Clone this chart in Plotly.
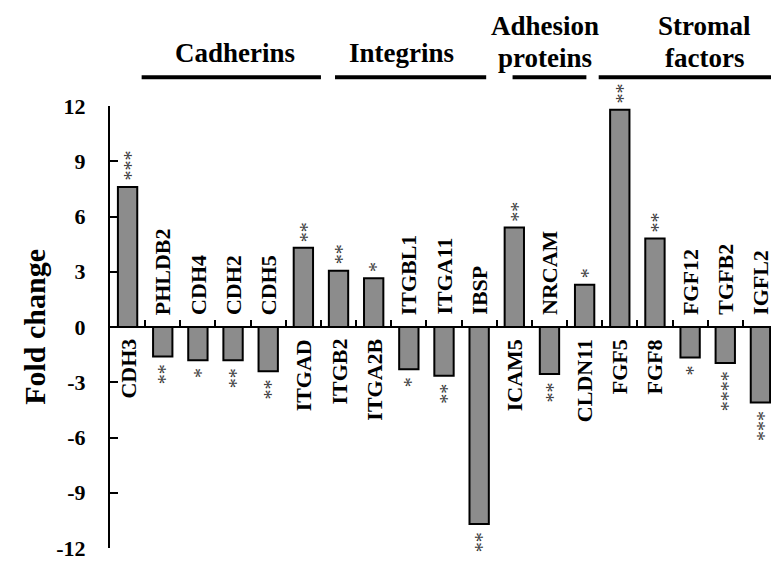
import plotly.graph_objects as go

genes = ["CDH3", "PHLDB2", "CDH4", "CDH2", "CDH5", "ITGAD", "ITGB2", "ITGA2B",
         "ITGBL1", "ITGA11", "IBSP", "ICAM5", "NRCAM", "CLDN11", "FGF5", "FGF8",
         "FGF12", "TGFB2", "IGFL2"]
fold_change = [7.6, -1.6, -1.8, -1.8, -2.4, 4.3, 3.05, 2.65,
               -2.3, -2.65, -10.7, 5.4, -2.55, 2.3, 11.8, 4.8,
               -1.65, -1.95, -4.1]
stars = ["***", "**", "*", "**", "**", "**", "**", "*",
         "*", "**", "**", "**", "**", "*", "**", "**",
         "*", "****", "***"]
y_ticks = [-12, -9, -6, -3, 0, 3, 6, 9, 12]
y_tick_text = ["-12", "-9", "-6", "-3", "0", "3", "6", "9", "12"]

# group headers: (label lines, line start idx, line end idx, text center idx)
groups = [
    (["Cadherins"], 0.4, 5.5, 3.05),
    (["Integrins"], 5.9, 10.2, 7.8),
    (["Adhesion", "proteins"], 10.95, 13.05, 11.87),
    (["Stromal", "factors"], 13.4, 18.6, 16.42),
]

FONT = "Times New Roman, Liberation Serif, serif"
x_idx = list(range(len(genes)))

fig = go.Figure()
fig.add_trace(go.Bar(
    x=x_idx, y=fold_change, width=0.55,
    marker=dict(color="#8c8c8c", line=dict(color="black", width=2)),
    showlegend=False, hoverinfo="skip"))

ann = []
for i, (g, v, s) in enumerate(zip(genes, fold_change, stars)):
    pos = v > 0
    ann.append(dict(x=i, y=0, xref="x", yref="y", text="<b>%s</b>" % g, showarrow=False,
                    textangle=-90, yanchor="top" if pos else "bottom",
                    yshift=-10 if pos else 10,
                    font=dict(family=FONT, size=22, color="black")))
    ann.append(dict(x=i, y=v, xref="x", yref="y", text=s, showarrow=False,
                    textangle=-90, yanchor="bottom" if pos else "top",
                    yshift=4 if pos else -6, xshift=3,
                    font=dict(family=FONT, size=20, color="#3a3a3a")))

line_y = 1.065
for labels, x0, x1, xc in groups:
    fig.add_shape(type="line", xref="x", yref="paper", x0=x0, x1=x1,
                  y0=line_y, y1=line_y, line=dict(color="black", width=4))
    if len(labels) == 1:
        ys = [1.12]
    else:
        ys = [1.182, 1.108]
    for lab, yy in zip(labels, ys):
        ann.append(dict(x=xc, y=yy, xref="x", yref="paper", text="<b>%s</b>" % lab,
                        showarrow=False, xanchor="center", yanchor="middle",
                        font=dict(family=FONT, size=27, color="black")))

ann.append(dict(x=-0.114, y=0.5, xref="paper", yref="paper",
                text="<b>Fold change</b>", showarrow=False, textangle=-90,
                xanchor="center", yanchor="middle",
                font=dict(family=FONT, size=30, color="black")))

fig.update_layout(
    width=771, height=554,
    margin=dict(l=102, r=1, t=98, b=9),
    paper_bgcolor="white", plot_bgcolor="white",
    annotations=ann,
    xaxis=dict(type="linear", range=[-0.5, 18.5], anchor="free", position=0.5,
               showline=True, linecolor="black", linewidth=2,
               ticks="inside", tickvals=[i + 0.5 for i in x_idx[:-1]], ticklen=6,
               tickwidth=2, tickcolor="black",
               showticklabels=False, showgrid=False, zeroline=False),
    yaxis=dict(range=[-12, 12], tickvals=y_ticks, ticktext=y_tick_text, showline=True,
               linecolor="black", linewidth=2, ticks="inside", ticklen=8,
               tickwidth=2, tickcolor="black", showgrid=False, zeroline=False,
               ticklabelstandoff=18, ticklabeloverflow="allow",
               tickfont=dict(family=FONT, size=22, color="black", weight="bold")),
)

fig.write_html("out.html")
